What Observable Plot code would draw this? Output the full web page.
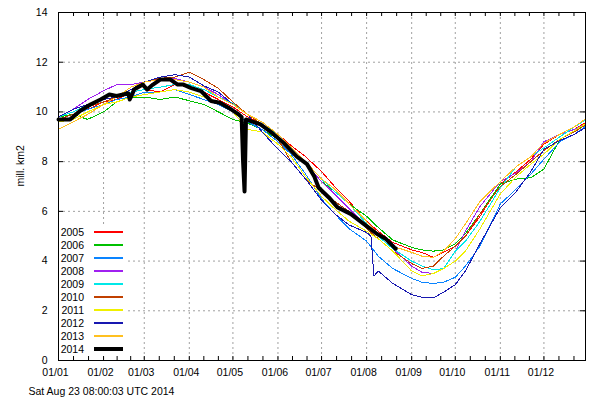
<!DOCTYPE html>
<html><head><meta charset="utf-8">
<script src="https://cdn.jsdelivr.net/npm/d3@7"></script>
<script src="https://cdn.jsdelivr.net/npm/@observablehq/plot@0.6"></script>
<style>
body{margin:0;background:#fff;font-family:"Liberation Sans",Arial,sans-serif;}
#wrap{position:relative;width:600px;height:400px;}
#legend{position:absolute;left:59px;top:226px;width:69px;height:130px;background:#fff;}
.lab{position:absolute;left:0;width:25px;text-align:right;font-size:10.5px;line-height:12px;height:12px;color:#000;}
.sw{position:absolute;left:35px;width:29px;}
</style>
</head><body>
<div id="wrap"><div id="legend"></div></div>
<script>
const years = ["2005","2006","2007","2008","2009","2010","2011","2012","2013","2014"];
const colors = ["#ff0000","#00c000","#0a84ff","#a020f0","#00e8e8","#c04000","#f0f000","#1818b0","#ffc020","#000000"];
const monthStarts = [0,31,59,90,120,151,181,212,243,273,304,334];
const tickLabels = ["01/01","01/02","01/03","01/04","01/05","01/06","01/07","01/08","01/09","01/10","01/11","01/12"];
const yTicks = [0,2,4,6,8,10,12,14];
const yLabel = "mill. km2";
const caption = "Sat Aug 23 08:00:03 UTC 2014";

const days = [0,10,20,31,40,50,59,70,80,90,100,110,120,130,140,151,160,170,181,190,200,212,220,230,243,250,258,265,273,280,290,304,315,325,334,345,355,362];
const v2005 = [9.7,9.9,10.1,10.4,10.5,10.8,10.9,10.8,11.1,11.0,10.8,10.5,10.2,9.8,9.5,9.1,8.65,8.2,7.6,7.0,6.4,5.6,5.2,4.75,4.45,4.35,4.15,4.35,4.6,5.0,5.8,7.1,7.6,8.1,8.7,9.1,9.3,9.55];
const v2006 = [9.8,9.9,9.7,10.0,10.4,10.6,10.6,10.5,10.6,10.45,10.3,10.0,9.7,9.55,9.3,8.9,8.5,7.9,7.2,6.8,6.3,5.8,5.35,4.85,4.55,4.45,4.4,4.45,4.7,5.1,5.9,7.1,7.3,7.35,7.7,8.9,9.2,9.5];
const v2007 = [9.7,9.9,10.1,10.3,10.5,10.6,10.8,10.8,10.9,10.7,10.5,10.3,10.0,9.6,9.3,8.8,8.3,7.5,6.5,5.9,5.3,4.8,4.2,3.7,3.3,3.15,3.1,3.15,3.35,3.8,4.6,6.3,6.9,7.5,8.1,8.8,9.1,9.4];
const v2008 = [9.8,10.1,10.5,10.85,11.1,11.1,11.2,11.3,11.35,11.2,11.0,10.7,10.3,9.9,9.5,9.0,8.5,7.9,7.2,6.7,6.1,5.4,5.0,4.5,3.8,3.55,3.5,3.7,4.4,5.2,6.2,7.2,7.55,8.0,8.8,9.1,9.3,9.5];
const v2009 = [9.8,10.0,10.3,10.5,10.6,10.8,10.9,11.0,11.1,11.1,10.9,10.6,10.35,9.9,9.5,9.1,8.6,8.0,7.3,6.8,6.3,5.5,5.0,4.5,4.0,3.8,3.65,3.7,4.4,4.8,5.6,6.95,7.8,8.2,8.55,9.0,9.4,9.65];
const v2010 = [9.7,9.9,10.2,10.4,10.6,10.9,11.2,11.35,11.4,11.6,11.3,10.95,10.4,9.9,9.5,8.9,8.0,7.3,6.8,6.4,6.0,5.3,4.9,4.4,3.9,3.7,3.8,4.2,4.6,5.0,5.9,7.0,7.5,8.0,8.45,8.9,9.2,9.45];
const v2011 = [9.6,9.7,10.0,10.3,10.4,10.6,10.7,10.8,10.9,10.8,10.6,10.4,10.0,9.3,9.2,8.7,8.2,7.4,6.6,6.1,5.6,5.2,4.9,4.4,3.6,3.4,3.5,3.7,4.0,4.4,5.3,6.7,7.4,7.9,8.3,8.9,9.25,9.5];
const days2012 = [0,10,20,31,40,50,59,70,80,90,100,110,120,130,140,151,160,170,181,190,200,212,215,217,220,230,243,250,258,265,273,280,290,304,315,325,334,345,355,362];
const v2012 = [9.8,10.1,10.3,10.5,10.6,10.9,11.2,11.4,11.5,11.4,11.05,10.8,10.3,9.9,9.2,8.5,8.0,7.3,6.45,5.9,5.45,5.15,5.0,3.4,3.6,3.1,2.65,2.55,2.52,2.75,3.05,3.6,4.7,6.15,6.8,7.6,8.5,8.85,9.1,9.35];
const v2013 = [9.3,9.6,9.9,10.3,10.6,11.0,11.2,11.3,11.3,11.2,11.0,10.6,10.3,9.9,9.6,9.1,8.6,8.0,7.3,6.9,6.3,5.6,5.1,4.6,4.35,4.2,4.15,4.4,4.9,5.5,6.4,7.2,7.8,8.2,8.75,9.1,9.4,9.7];
const days2014 = [0,8,15,22,29,35,40,46,48,49,51,52,58,61,65,70,77,82,86,91,98,105,111,117,124,126,127,128,129,132,139,146,155,164,171,176,179,186,192,201,210,219,225,231,232];
const v2014 = [9.7,9.7,10.05,10.3,10.5,10.7,10.64,10.72,10.75,10.5,10.75,10.9,11.1,10.9,11.1,11.3,11.3,11.1,11.1,10.97,10.84,10.44,10.37,10.17,9.9,9.8,8.0,6.8,9.7,9.64,9.5,9.2,8.75,8.2,7.9,7.4,6.95,6.56,6.16,5.9,5.5,5.1,4.9,4.55,4.5];

const series = [
  ["2005", days, v2005], ["2006", days, v2006], ["2007", days, v2007], ["2008", days, v2008],
  ["2009", days, v2009], ["2010", days, v2010], ["2011", days, v2011], ["2012", days2012, v2012],
  ["2013", days, v2013], ["2014", days2014, v2014]
];
const rows = series.flatMap(([year, ds, vs]) => ds.map((d, i) => ({year, day: d, value: vs[i]})));

const W = 600, H = 400, mt = 12, mb = 40, ml = 58, mr = 15;
const fh = H - mt - mb, fw = W - ml - mr;
const minor = monthStarts.flatMap((s, i) => { const e = i < 11 ? monthStarts[i + 1] : 365; return [s + (e - s) / 3, s + 2 * (e - s) / 3]; });
const xt = monthStarts.slice(1).concat(minor);
const grid = {stroke: "#a0a0a0", strokeOpacity: 1, strokeDasharray: "2,3"};

const chart = Plot.plot({
  width: W, height: H, marginTop: mt, marginBottom: mb, marginLeft: ml, marginRight: mr,
  style: {fontFamily: "'Liberation Sans', Arial, sans-serif", fontSize: "10.5px", background: "white", color: "black"},
  x: {domain: [0, 362.6]},
  y: {domain: [0, 14]},
  color: {domain: years, range: colors},
  marks: [
    Plot.gridX(monthStarts.slice(1), grid),
    Plot.gridY(yTicks.slice(1, -1), grid),
    Plot.axisX(monthStarts, {tickSize: 0, tickPadding: 8, dx: -3, label: null, tickFormat: d => tickLabels[monthStarts.indexOf(d)]}),
    Plot.axisY(yTicks, {tickSize: 0, tickPadding: 11, label: null}),
    Plot.tickX(xt, {x: d => d, insetTop: fh - 4, stroke: "black"}),
    Plot.tickX(xt, {x: d => d, insetBottom: fh - 4, stroke: "black"}),
    Plot.tickY(yTicks.slice(1, -1), {y: d => d, insetRight: fw - 5, stroke: "black"}),
    Plot.tickY(yTicks.slice(1, -1), {y: d => d, insetLeft: fw - 5, stroke: "black"}),
    Plot.line(rows.filter(r => r.year !== "2014"), {x: "day", y: "value", z: "year", stroke: "year", strokeWidth: 1, shapeRendering: "crispEdges"}),
    Plot.line(rows.filter(r => r.year === "2014"), {x: "day", y: "value", stroke: "#000", strokeWidth: 4}),
    Plot.frame({stroke: "black"}),
    Plot.text([yLabel], {frameAnchor: "left", rotate: -90, dx: -38, text: d => d, fontSize: 10.5}),
    Plot.text([caption], {frameAnchor: "bottom-left", textAnchor: "start", dx: -30, dy: 34, text: d => d, fontSize: 10.5})
  ]
});
const wrap = document.getElementById("wrap");
wrap.insertBefore(chart, wrap.firstChild);

const leg = document.getElementById("legend");
years.forEach((y, i) => {
  const top = Math.round(6.3 + i * 12.96);
  const lab = document.createElement("div");
  lab.className = "lab"; lab.textContent = y; lab.style.top = (top - 6) + "px";
  const sw = document.createElement("div");
  sw.className = "sw";
  const h = y === "2014" ? 4 : 2;
  sw.style.height = h + "px"; sw.style.background = colors[i]; sw.style.top = (top - Math.floor(h / 2)) + "px";
  leg.appendChild(lab); leg.appendChild(sw);
});
</script>
</body></html>
